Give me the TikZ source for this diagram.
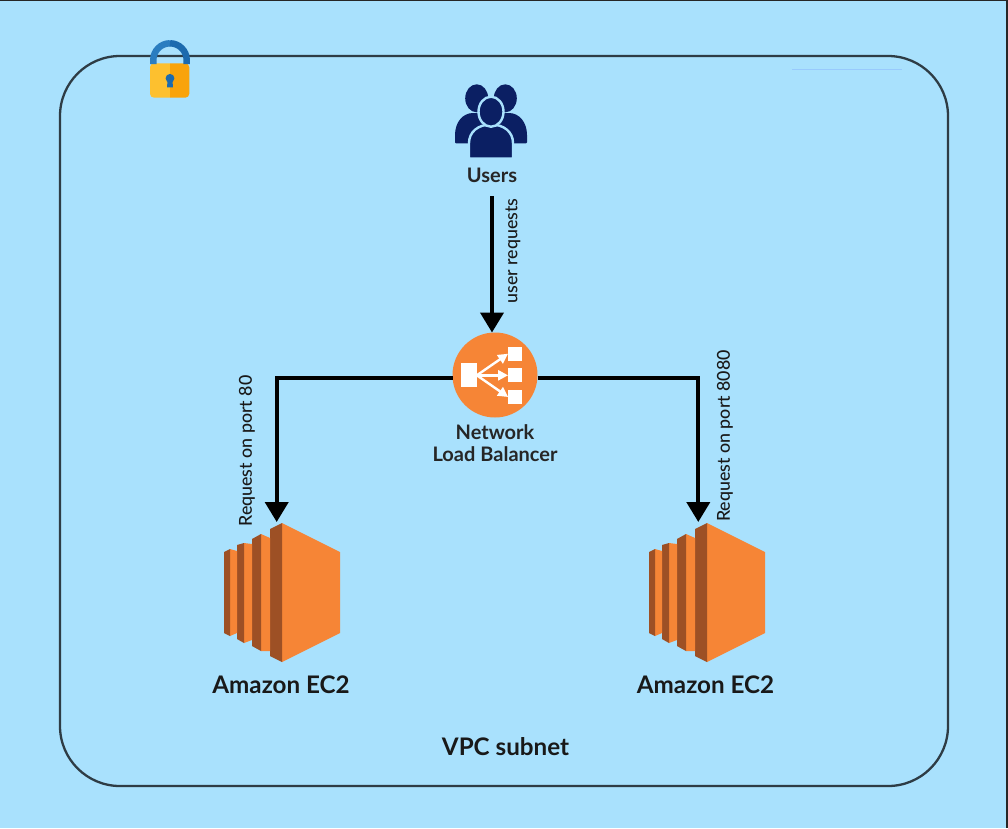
\documentclass[tikz,border=0pt]{standalone}
\usepackage{fontspec}
\setmainfont{Lato}
\newfontfamily\latomed{Lato Medium}
\usetikzlibrary{arrows.meta}
\definecolor{skybg}{HTML}{A9E1FD}
\definecolor{edgeline}{HTML}{2E3C45}
\definecolor{awsorange}{HTML}{F68536}
\definecolor{awsdark}{HTML}{9D5025}
\definecolor{usernavy}{HTML}{0B1F63}
\definecolor{lockblue}{HTML}{2A7DC0}
\definecolor{lockdeep}{HTML}{1C6AAE}
\definecolor{lockgold}{HTML}{FDC02F}
\definecolor{lockamber}{HTML}{F9A30A}

\begin{document}
\begin{tikzpicture}[x=1pt,y=-1pt,
  subnet/.style={draw=edgeline,line width=2.3pt,rounded corners=60pt},
  flow/.style={line width=4pt,-{Triangle[width=23pt,length=20pt]}},
  biglab/.style={font=\bfseries\fontsize{24.2}{26}\selectfont,text=black!90,inner sep=0pt,anchor=base},
  midlab/.style={font=\bfseries\fontsize{20}{21.7}\selectfont,text=black!85,inner sep=0pt,align=center},
  portlab/.style={font=\latomed\fontsize{17.8}{19}\selectfont,text=black!90,inner sep=0pt,rotate=90},
  lbbox/.style={fill=white,inner sep=0pt,minimum size=14pt},
  lbflow/.style={white,line width=2.4pt,-{Triangle[width=10pt,length=10pt]}},
  person/.style={fill=usernavy,draw=skybg,line width=2.4pt},
  ecinst/.pic={
    \fill[awsorange] (0,-69) -- (58,-40) -- (58,41) -- (0,70) -- cycle;
    \fill[awsdark] (-12,-63) -- (0,-69) -- (0,70) -- (-12,64) -- cycle;
    \fill[awsorange] (-21,-58) -- (-12,-54) -- (-12,59) -- (-21,59) -- cycle;
    \fill[awsdark] (-30,-53) -- (-21,-58) -- (-21,59) -- (-30,54) -- cycle;
    \fill[awsorange] (-38,-49) -- (-30,-48) -- (-30,48) -- (-38,51) -- cycle;
    \fill[awsdark] (-45,-47) -- (-38,-49) -- (-38,51) -- (-45,47) -- cycle;
    \fill[awsorange] (-52,-43) -- (-45,-41) -- (-45,41) -- (-52,44) -- cycle;
    \fill[awsdark] (-58,-40) -- (-52,-43) -- (-52,44) -- (-58,41) -- cycle;
  }]
  \fill[skybg] (0,0) rectangle (1008,828);
  \fill[black!85] (0,0) rectangle (1008,1.2);
  \fill[black!85] (1006,0) rectangle (1008,828);

  \draw[subnet] (60,56) rectangle (948,786);
  \draw[skybg!90!blue,line width=0.7pt] (792,69) -- (902,69);
  \fill[skybg] (931.5,68) rectangle (934.5,71.5);

  \fill[lockgold] (170,63.3) [rounded corners=4pt] -- (150,63.3) -- (150,97.7) [sharp corners] -- (170,97.7) -- cycle;
  \fill[lockamber] (170,63.3) [rounded corners=4pt] -- (189.3,63.3) -- (189.3,97.7) [sharp corners] -- (170,97.7) -- cycle;
  \draw[lockblue,line width=6.5pt] (153.3,64) -- (153.3,60)
    arc[start angle=180,end angle=270,radius=16.7];
  \draw[lockdeep,line width=6.5pt] (170,43.3)
    arc[start angle=270,end angle=360,radius=16.7] -- (186.7,64);
  \fill[lockdeep] (170,78.3) circle[radius=4.4];
  \fill[lockdeep] (167.6,80) -- (172.4,80) -- (173,87.3) -- (167,87.3) -- cycle;

  \fill[usernavy] (476.7,98.3) ellipse[x radius=11.5,y radius=14];
  \fill[usernavy] (505.3,98.3) ellipse[x radius=11.5,y radius=14];
  \fill[usernavy,rounded corners=1pt] (455,143.3) -- (455,136)
    .. controls (455,122) and (463,113) .. (474,113) -- (490,113) -- (490,143.3) -- cycle;
  \fill[usernavy,rounded corners=1pt] (527,143.3) -- (527,136)
    .. controls (527,122) and (519,113) .. (508,113) -- (492,113) -- (492,143.3) -- cycle;
  \filldraw[person] (469,158.5) -- (469,143)
    .. controls (469,132) and (478,124.5) .. (491,124.5)
    .. controls (504,124.5) and (513,132) .. (513,143) -- (513,158.5) -- cycle;
  \filldraw[person] (491,111.7) ellipse[x radius=12.5,y radius=15];

  \node[midlab,anchor=base] (users) at (492,182) {Users};
  \node[circle,fill=awsorange,minimum size=85pt,inner sep=0pt,outer sep=0pt] (nlb) at (495,375) {};
  \node[midlab] (nlbname) at (495,443) {Network\\Load Balancer};

  \node[lbbox,minimum width=15.7pt,minimum height=24pt] (lbin) at (468.8,375.3) {};
  \node[lbbox] (lbouta) at (515.3,353.7) {};
  \node[lbbox] (lboutb) at (515.3,375.3) {};
  \node[lbbox] (lboutc) at (515.3,397) {};
  \foreach \k in {a,b,c} \draw[lbflow] (lbin.east) -- (lbout\k.west);

  \pic at (282,592) {ecinst};
  \pic at (707,592) {ecinst};
  \coordinate (ecleft) at (276.7,522);
  \coordinate (ecright) at (698.3,522);

  \draw[flow] ([yshift=-14pt]users.south) -- (users.south |- nlb.north);
  \draw[flow] ([yshift=-2.5pt]nlb.west) -| (ecleft);
  \draw[flow] ([yshift=-2.5pt]nlb.east) -| (ecright);

  \node[portlab] (reqlab) at (513,251) {user requests};
  \node[portlab] (portleft) at (247,451) {Request on port 80};
  \node[portlab] (portright) at (725,436) {Request on port 8080};

  \node[biglab] (ecnameleft) at (281,693) {Amazon EC2};
  \node[biglab] (ecnameright) at (705.5,693) {Amazon EC2};
  \node[biglab] (vpcname) at (505.5,755) {VPC subnet};
\end{tikzpicture}
\end{document}
